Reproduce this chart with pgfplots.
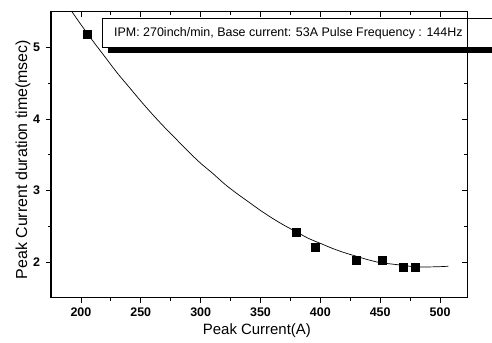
\documentclass[border=0pt]{standalone}
\usepackage{pgfplots}
\pgfplotsset{compat=1.18}
\usepackage{fontspec}
\setmainfont{Liberation Sans}
\begin{document}
\begin{tikzpicture}
\pgfplotsset{commonax/.style={
  at={(0,0)}, anchor=south west, scale only axis,
  width=416bp, height=286bp,
  xmin=175, xmax=522.5, ymin=1.5, ymax=5.5,
  xtick={200,250,...,500}, ytick={2,3,4,5},
  minor x tick num=1, minor y tick num=1,
  major tick length=5bp, minor tick length=3bp,
  axis line style={line width=1bp},
  every tick/.style={black, line width=0.8bp},
}}
\begin{axis}[commonax, name=ax,
  clip=false,
  tick align=outside, xtick pos=bottom, ytick pos=left,
  tick label style={font=\fontsize{12.5}{14}\selectfont\bfseries},
  /pgf/number format/assume math mode=true,
  xticklabel style={yshift=-2bp},
  yticklabel style={xshift=-2.5bp},
  xlabel={Peak Current(A)},
  ylabel={Peak Current duration time(msec)},
  xlabel style={font=\fontsize{15}{17}\selectfont, at={(axis description cs:0.495,-0.114)}, anchor=center},
  ylabel style={font=\fontsize{16}{18}\selectfont, at={(axis description cs:-0.0673,0.483)}, anchor=center, rotate=0},
]
\addplot[black, line width=0.7bp, smooth] coordinates {
(192.5,5.50) (200,5.32) (210,5.09) (220,4.87) (230,4.65) (240,4.45) (250,4.25)
(260,4.06) (270,3.88) (280,3.71) (290,3.54) (300,3.38) (310,3.24) (320,3.09)
(330,2.96) (340,2.84) (350,2.72) (360,2.61) (370,2.51) (380,2.42) (390,2.33)
(400,2.26) (410,2.19) (420,2.13) (430,2.08) (440,2.03) (450,1.99) (460,1.97)
(470,1.95) (480,1.93) (490,1.93) (500,1.934) (507,1.94)
};
\addplot[only marks, mark=square*, mark size=4bp, black] coordinates {
(205.5,5.19) (380,2.41) (396,2.21) (430,2.02) (452,2.02) (469,1.92) (479,1.92)
};
\fill[black] (axis cs:222.6,5.33) rectangle (axis cs:560,4.922);
\draw[fill=white, line width=1bp] (axis cs:218.4,5.408) rectangle (axis cs:560,5.002);
\node[anchor=west, inner sep=0pt, font=\fontsize{12.5}{14}\selectfont] at (axis cs:227.6,5.198)
  {IPM: 270inch/min, Base current: 53A Pulse Frequency : 144Hz};
\end{axis}
\begin{axis}[commonax,
  tick align=inside, xtick pos=top, ytick pos=right,
  xticklabels={}, yticklabels={},
]
\end{axis}
\pgfresetboundingbox
\path[use as bounding box] ([xshift=-51bp, yshift=-45.3bp]ax.south west) rectangle ([xshift=25bp, yshift=11.7bp]ax.north east);
\end{tikzpicture}
\end{document}
